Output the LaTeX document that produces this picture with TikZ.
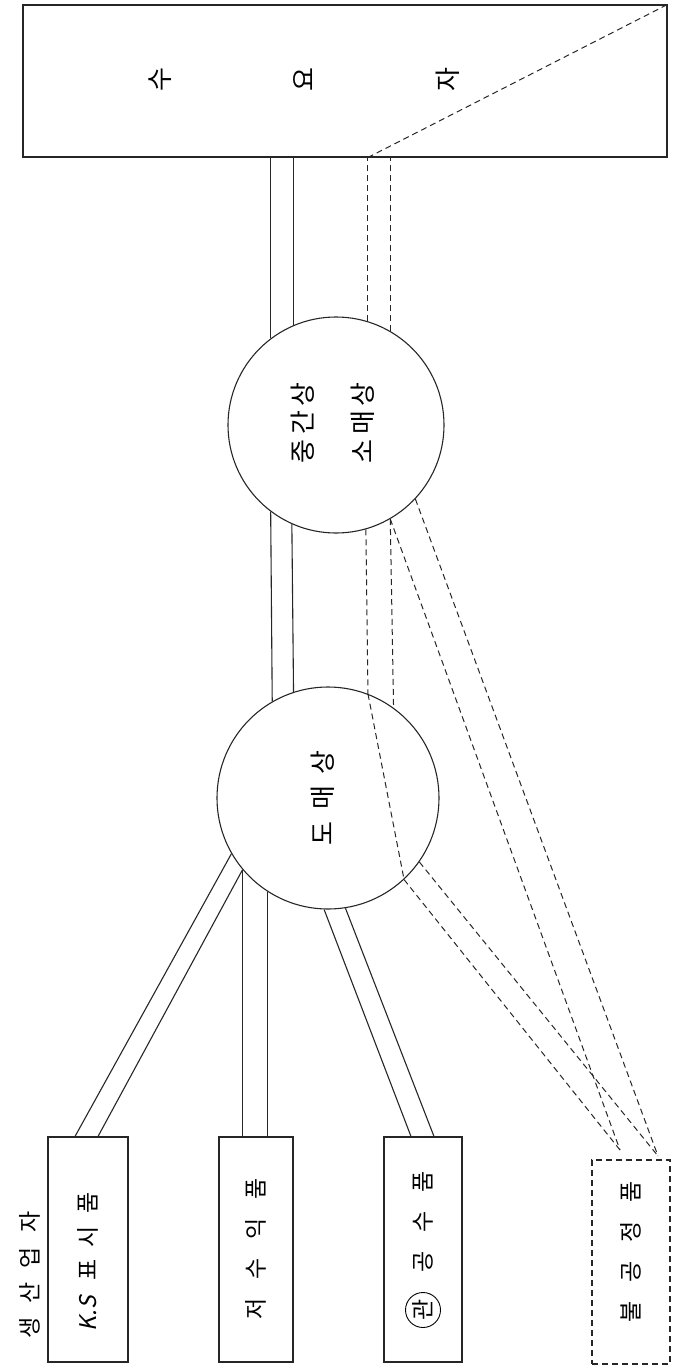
\documentclass[tikz,border=0pt]{standalone}
\usepackage{fontspec}
\newfontfamily\krfont{Noto Sans CJK KR}
\newfontfamily\krslant[FakeSlant=0.2]{Noto Sans CJK KR}
\usetikzlibrary{calc}
\newcommand\kg[1][6pt]{\kern#1}
\begin{document}
\begin{tikzpicture}[x=1pt,y=-1pt,
  sline/.style={line width=1.1pt, draw=black!85},
  dline/.style={line width=1pt, dash pattern=on 6pt off 4pt, draw=black!85},
  ktext/.style={font=\krfont\fontsize{26}{60}\selectfont, rotate=90, inner sep=0pt, align=center},
  btext/.style={font=\krfont\fontsize{23}{26}\selectfont, rotate=90, inner sep=0pt},
  box/.style={draw, line width=1.1pt, draw=black!85, minimum height=225pt, inner sep=0pt},
  ring/.style={draw, circle, line width=1.1pt, draw=black!85, inner sep=0pt},
]
\useasboundingbox (0,0) rectangle (675,1371);

% consumer box
\node[draw, line width=1.1pt, draw=black!85, minimum width=644pt, minimum height=152pt, inner sep=0pt] (cons) at (345,81) {};
\node[ktext] (t1) at (160,80) {수};
\node[ktext] (t2) at (303,80) {요};
\node[ktext] (t3) at (448,80) {자};

% circles
\node[ring, minimum size=216pt] (c1) at (336,425) {};
\node[ktext] (c1t) at (333,423) {중\kg[5pt]간\kg[5pt]상\\소\kg[5pt]매\kg[5pt]상};
\node[ring, minimum size=222pt] (c2) at (328,798) {};
\node[ktext] (c2t) at (323,798) {도\kg[12pt]매\kg[12pt]상};

% producer boxes
\node[box, minimum width=80pt] (b1) at (88,1249.5) {};
\node[box, minimum width=74pt] (b2) at (256,1249.5) {};
\node[box, minimum width=78pt] (b3) at (423,1249.5) {};
\node[box, minimum width=78pt, minimum height=204pt, dashed, dash pattern=on 6pt off 4pt] (b4) at (631,1262) {};

\node[btext] (lab) at (30,1275) {생\kg[14pt]산\kg[14pt]업\kg[14pt]자};
\node[btext] (b1t) at (88,1262) {{\krslant K.S}\kg[16pt]표\kg[12pt]시\kg[12pt]품};
\node[btext] (b2t) at (256,1249) {저\kg[19pt]수\kg[19pt]익\kg[19pt]품};
\node[btext, draw, circle, inner sep=2pt, line width=0.9pt] (b3c) at (423,1310) {관};
\node[btext] (b3t) at (423,1222) {공\kg[19pt]수\kg[19pt]품};
\node[btext] (b4t) at (631,1252) {불\kg[19pt]공\kg[19pt]정\kg[19pt]품};

% consumer -> c1
\draw[sline] (c1.127) -- (c1.127 |- cons.south);
\draw[sline] (c1.113.5) -- (c1.113.5 |- cons.south);
\draw[dline] (c1.73.9) -- (c1.73.9 |- cons.south);
\draw[dline] (c1.60) -- (c1.60 |- cons.south);
\draw[dline] (c1.73.9 |- cons.south) -- (cons.north east);

% c1 -> c2
\draw[sline] (c1.233) -- (c2.120.9);
\draw[sline] (c1.246.5) -- (c2.108.4);
\draw[dline] (c1.286.1) -- (c2.69.4);
\draw[dline] (c1.300) -- (c2.54.8);
\draw[dline] (c2.69.4) -- (c2.313.5);

% dashed to b4
\coordinate (p1) at (620,1150);
\coordinate (p2) at (658,1156);
\draw[dline] (c1.300) -- (p1);
\draw[dline] (c1.317) -- (p2);
\draw[dline] (c2.313.5) -- (p1);
\draw[dline] (c2.325.8) -- (p2);

% c2 -> boxes
\draw[sline] (c2.210) -- ($(b1.north)+(-13,0)$);
\draw[sline] (c2.220) -- ($(b1.north)+(10,0)$);
\draw[sline] (c2.220) -- (c2.220 |- b2.north);
\draw[sline] (c2.237.3) -- (c2.237.3 |- b2.north);
\draw[sline] (c2.268.5) -- ($(b3.north)+(-12,0)$);
\draw[sline] (c2.279.8) -- ($(b3.north)+(11,0)$);
\end{tikzpicture}
\end{document}
